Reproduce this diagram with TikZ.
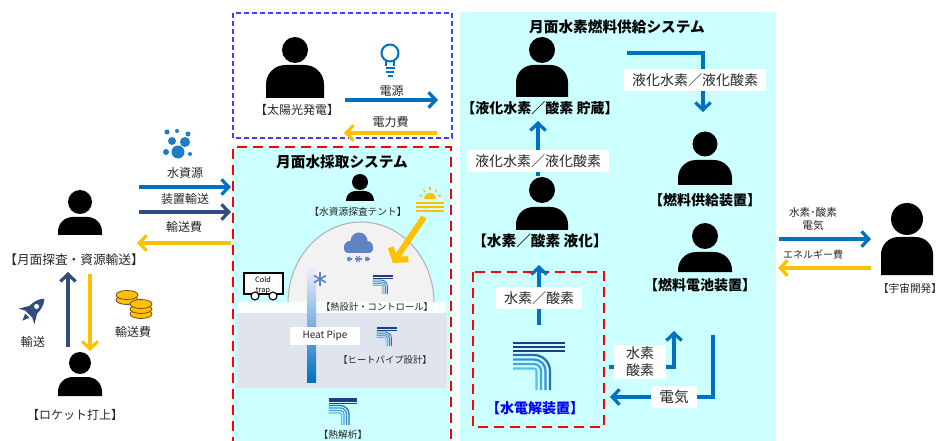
\documentclass[tikz,border=0pt]{standalone}
\usepackage{fontspec}
\setmainfont{Noto Sans CJK JP}
\usetikzlibrary{arrows.meta,patterns,positioning}

\definecolor{flowblue}{HTML}{0070C0}
\definecolor{flownavy}{HTML}{2F4E7E}
\definecolor{flowgold}{HTML}{FFC000}
\definecolor{moonbg}{HTML}{CCFFFF}
\definecolor{logonavy}{HTML}{1F3C88}
\definecolor{gridbg}{HTML}{E2E7F0}
\definecolor{griddot}{HTML}{CBD2E2}
\definecolor{cloudblue}{HTML}{5E84C4}
\definecolor{bubbleblue}{HTML}{1E7BC8}

\tikzset{
  flow/.style={line width=2.4pt, -{Straight Barb[length=5.5pt,width=11.5pt]}},
  txt/.style={font=\fontsize{9}{10}\selectfont, text=black!85, inner sep=1pt},
  tag/.style={font=\fontsize{10.5}{12}\selectfont, text=black!85, fill=white, inner xsep=6pt, inner ysep=3pt},
  small/.style={font=\fontsize{7}{8}\selectfont, text=black!85, inner sep=1pt},
  who/.style={font=\bfseries\fontsize{10.5}{12}\selectfont, inner sep=1pt},
  ttl/.style={font=\bfseries\fontsize{11}{12}\selectfont, inner sep=1pt},
  pics/person/.style n args={4}{code={
    \fill (0,0) circle (#1);
    \fill (-#4,#3) [rounded corners=#4*0.5pt] -- (-#4,#2) -- (#4,#2) [sharp corners] -- (#4,#3) -- cycle;
  }},
  pics/tlogo/.style={code={
    \begin{scope}[scale=#1, line width=#1*1.7pt]
      \foreach \yy in {-22,-18,-14}
        \draw[logonavy] (-26,\yy) -- (26,\yy);
      \foreach \j/\col in {0/2E6DB4,1/3A8FD0,2/41A8DF,3/5BC0EB} {
        \definecolor{tl}{HTML}{\col}
        \pgfmathsetmacro\yy{-10+4.5*\j}
        \pgfmathsetmacro\xx{11-4.5*\j}
        \pgfmathsetmacro\rr{16-4.5*\j}
        \draw[tl] (-26,\yy) -- (-5,\yy) arc[start angle=270, end angle=360, radius=\rr] -- (\xx,25);
      }
    \end{scope}
  }},
}

\begin{document}
\begin{tikzpicture}[x=0.75pt, y=-0.75pt]
\useasboundingbox (0,0) rectangle (944,441);

% Panels
\fill[moonbg] (460,12) rectangle (776,445);
\fill[moonbg] (233,147) rectangle (451,445);
\draw[red, line width=2.2pt, dash pattern=on 7.5pt off 4.5pt] (233,447) -- (233,147) -- (451,147) -- (451,447);
\draw[blue!75, line width=1.1pt, dash pattern=on 3.75pt off 2.25pt] (233,13) rectangle (452,138);
\draw[red, line width=2pt, dash pattern=on 7.5pt off 4.5pt] (473,272) rectangle (604,427);

% Left: exploration and launch
\pic at (80,202) {person={12}{15}{33}{22}};
\node[txt, font=\fontsize{9.5}{11}\selectfont] (explore) at (74,260) {【月面探査・資源輸送】};
\pic at (80,363) {person={11}{14}{33}{22}};
\node[txt] (launch) at (75,415) {【ロケット打上】};

\coordinate (up1) at (68,347); \coordinate (up2) at (68,272);
\coordinate (dn1) at (90,274); \coordinate (dn2) at (90,351);
\draw[flow, flownavy] (up1) -- (up2);
\draw[flow, flowgold] (dn1) -- (dn2);

% rocket
\begin{scope}[shift={(33,310)}, rotate=-45]
  \fill[flownavy] (0,-16) .. controls (6,-10) and (6,0) .. (5,6) -- (-5,6) .. controls (-6,0) and (-6,-10) .. (0,-16);
  \fill[flownavy] (-5,-1) -- (-11,9) -- (-5,6) -- cycle;
  \fill[flownavy] (5,-1) -- (11,9) -- (5,6) -- cycle;
  \fill[flownavy] (-3,8) -- (0,15) -- (3,8) -- cycle;
  \fill[white] (0,-5) circle (2.5);
\end{scope}
\node[txt] (rocketlbl) at (33,342) {輸送};

% coins
\foreach \cx/\cy in {127/300,127/295,141/314,141/309,141/304}
  \filldraw[fill=flowgold, draw=brown!60!black, line width=0.6pt] (\cx,\cy) ellipse (11 and 4.5);
\node[txt] (coinlbl) at (133,332) {輸送費};

% water bubbles
\fill[bubbleblue] (178,152) circle (6.5) (185,142) circle (5) (172,141) circle (4)
  (166,152) circle (3) (190,154) circle (2) (167,132) circle (2.5) (177,131) circle (2) (188,134) circle (2.5);

\coordinate (w1) at (139,187); \coordinate (w2) at (231,187);
\draw[flow, flowblue] (w1) -- (w2) node[midway, above=4.5pt, txt] {水資源};
\coordinate (t1) at (139,212); \coordinate (t2) at (231,212);
\draw[flow, flownavy] (t1) -- (t2) node[midway, above=3.5pt, txt] {装置輸送};
\coordinate (f1) at (231,243); \coordinate (f2) at (137,243);
\draw[flow, flowgold] (f1) -- (f2) node[midway, above=5.5pt, txt] {輸送費};

% Solar power
\pic at (295,50) {person={13}{15}{48}{29}};
\node[txt] (solar) at (297,110) {【太陽光発電】};
\draw[flowblue, line width=1.5pt] (390,53) circle (8.5);
\draw[flowblue, line width=1.5pt] (386,61) -- (386,66) (394,61) -- (394,66)
  (385.5,68) -- (394.5,68) (386,72) -- (394,72) (387.5,76) -- (392.5,76);
\coordinate (e1) at (345,100); \coordinate (e2) at (438,100);
\draw[flow, flowblue] (e1) -- (e2) node[midway, above=0.5pt, txt] {電源};
\coordinate (c1) at (437,133); \coordinate (c2) at (344,133);
\draw[flow, flowgold] (c1) -- (c2) node[midway, above=2pt, txt] {電力費};

% Water harvesting system
\node[ttl] (title1) at (342,162) {月面水採取システム};
\pic at (360,182) {person={8}{9}{19}{14}};
\node[small, font=\fontsize{7.3}{8}\selectfont] (tent) at (358,212) {【水資源探査テント】};

% dome, ground and heat pipe
\filldraw[fill=gray!10, draw=gray!60, line width=0.8pt] (288,303) arc[start angle=180, end angle=360, x radius=73, y radius=81];
\fill[white, opacity=0.85] (237,302) rectangle (446,313);
\fill[gridbg] (237,313) rectangle (447,388);
\fill[pattern=crosshatch dots, pattern color=griddot] (237,313) rectangle (447,388);
\shade[top color=blue!6, bottom color=flowblue] (307,267) rectangle (316,382);
\node[fill=white, text=black!85, font=\fontsize{7.5}{8}\selectfont, minimum width=52pt, minimum height=14pt] (pipe) at (325,336) {Heat Pipe};

% sun and its ray onto the dome
\fill[flowgold] (424,199) arc[start angle=180, end angle=360, radius=6];
\foreach \a in {200,235,270,305,340}
  \draw[flowgold, line width=1pt, shift={(430,199)}] (\a:8.5) -- (\a:11.5);
\foreach \yy in {203,207,211}
  \draw[flowgold, line width=1pt] (416,\yy) -- (444,\yy);
\coordinate (sunray) at (424,217); \coordinate (domehit) at (393,263);
\draw[line width=4.5pt, flowgold, -{Straight Barb[length=6pt,width=16pt]}] (sunray) -- (domehit);

% snow cloud
\fill[cloudblue] (350,247) circle (6) (359,241) circle (8.5) (367,247) circle (6);
\fill[cloudblue, rounded corners=3] (344,244) rectangle (373,253);
\foreach \sx/\sr in {349/2.5,358/3.5,367/2.5}
  \foreach \a in {0,60,120}
    \draw[cloudblue, line width=0.8pt, shift={(\sx,259)}] (\a:\sr) -- (\a+180:\sr);
% snowflake
\foreach \a in {30,90,150}
  \draw[cloudblue, line width=1.2pt, shift={(320,279)}] (\a:7) -- (\a+180:7);

% cold trap
\draw[fill=white, line width=0.8pt] (244,273) rectangle (283,294);
\node[font=\fontsize{5.5}{6}\selectfont, inner sep=0pt] (cold) at (263,280) {Cold};
\node[font=\fontsize{5.5}{6}\selectfont, inner sep=0pt] (trap) at (263,291) {trap};
\draw[fill=white, line width=0.8pt] (255,296) circle (4) (273,296) circle (4);

% design tools
\pic at (383,284) {tlogo=0.4};
\node[small] (thermal) at (377,307) {【熱設計・コントロール】};
\pic at (387,336) {tlogo=0.4};
\node[small] (pipedes) at (385,360) {【ヒートパイプ設計】};
\pic at (343,411) {tlogo=0.55};
\node[small, font=\fontsize{7.3}{8}\selectfont] (analysis) at (343,435) {【熱解析】};

% Hydrogen fuel supply system
\node[ttl] (title2) at (617,27) {月面水素燃料供給システム};
\pic at (542,50) {person={13}{15}{47}{26}};
\node[who] (store) at (540,108) {【液化水素／酸素 貯蔵】};
\pic at (542,190) {person={13}{17}{40}{26}};
\node[who, font=\bfseries\fontsize{11}{12}\selectfont] (liquefy) at (540,241) {【水素／酸素 液化】};
\pic at (705,144) {person={12.5}{16}{41}{27}};
\node[who] (supply) at (705,200) {【燃料供給装置】};
\pic at (705,236) {person={13}{16}{36}{27}};
\node[who] (fuelcell) at (700,285) {【燃料電池装置】};

\coordinate (lq1) at (538,176); \coordinate (lq2) at (538,121);
\draw[flow, flowblue] (lq1) -- (lq2);
\node[tag] (lqtag) at (538,161) {液化水素／液化酸素};

\coordinate (sp1) at (627,53); \coordinate (sp2) at (703,112);
\draw[flow, flowblue] (sp1) -| (sp2);
\node[tag] (sptag) at (695,80) {液化水素／液化酸素};

% electrolysis
\coordinate (el1) at (539,325); \coordinate (el2) at (539,265);
\draw[flow, flowblue] (el1) -- (el2);
\node[tag] (eltag) at (539,298) {水素／酸素};
\pic at (539,365) {tlogo=1};
\node[who, text=blue] (electro) at (535,408) {【水電解装置】};

\coordinate (gs1) at (609,367); \coordinate (gs2) at (674,331);
\draw[flow, flowblue] (gs1) -| (gs2);
\node[tag, align=center, font=\fontsize{10.5}{13}\selectfont, inner xsep=9pt, inner ysep=1.5pt] (gstag) at (640,362) {水素\\酸素};

\coordinate (pw1) at (713,335); \coordinate (pw2) at (610,397);
\draw[flow, flowblue] (pw1) |- (pw2);
\node[tag, font=\fontsize{11}{12}\selectfont] (pwtag) at (674,397) {電気};

% Space development
\pic at (907,219) {person={16}{18}{56}{26}};
\node[txt, font=\fontsize{8}{9}\selectfont] (space) at (910,288) {【宇宙開発】};
\coordinate (sx1) at (779,239); \coordinate (sx2) at (871,239);
\draw[flow, flowblue] (sx1) -- (sx2);
\node[txt, align=center, font=\fontsize{8}{9.75}\selectfont] (sxlbl) at (813,219) {水素･酸素\\電気};
\coordinate (fx1) at (871,268); \coordinate (fx2) at (778,268);
\draw[flow, flowgold] (fx1) -- (fx2);
\node[txt, font=\fontsize{7.5}{8}\selectfont] (fxlbl) at (813,255) {エネルギー費};
\end{tikzpicture}
\end{document}
